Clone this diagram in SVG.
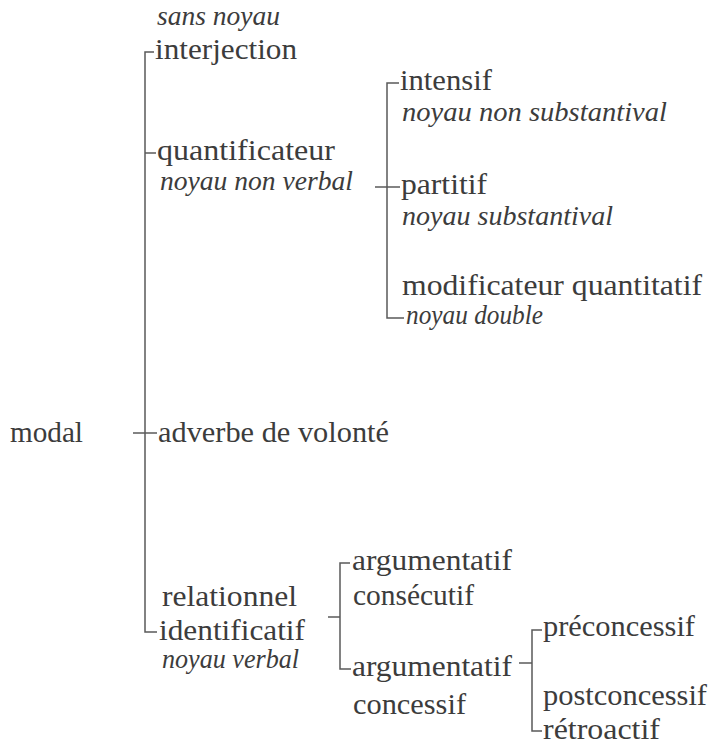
<svg xmlns="http://www.w3.org/2000/svg" width="711" height="745" viewBox="0 0 711 745">
<style>
text{font-size:29px;fill:#3c3c3c}
.i{font-style:italic;font-size:27px}
.ln{fill:none;stroke:#5a5a5a;stroke-width:1.5}
</style>
<rect width="711" height="745" fill="#fff"/>
<g id="connectors">
<path class="ln" d="M154,52 H145 V632 H157"/>
<path class="ln" d="M145,153 H156"/>
<path class="ln" d="M133,433 H157"/>
<path class="ln" d="M375,187 H400"/>
<path class="ln" d="M399,83 H387 V318 H404"/>
<path class="ln" d="M328,617 H340"/>
<path class="ln" d="M350,563 H340 V669 H351"/>
<path class="ln" d="M519,663 H532"/>
<path class="ln" d="M542,630 H532 V731 H542"/>
</g>
<g id="modal"><text x="10" y="442" style="font-family:'Liberation Serif',serif" textLength="73" lengthAdjust="spacingAndGlyphs">modal</text></g>
<g id="interjection">
<text class="i" x="157" y="25" style="font-family:'Liberation Serif',serif" textLength="123" lengthAdjust="spacingAndGlyphs">sans noyau</text>
<text x="155" y="59" style="font-family:'Liberation Serif',serif" textLength="142" lengthAdjust="spacingAndGlyphs">interjection</text>
</g>
<g id="quantificateur">
<text x="157" y="160" style="font-family:'Liberation Serif',serif" textLength="178" lengthAdjust="spacingAndGlyphs">quantificateur</text>
<text class="i" x="160" y="190" style="font-family:'Liberation Serif',serif" textLength="193" lengthAdjust="spacingAndGlyphs">noyau non verbal</text>
</g>
<g id="intensif">
<text x="400" y="90" style="font-family:'Liberation Serif',serif" textLength="92" lengthAdjust="spacingAndGlyphs">intensif</text>
<text class="i" x="402" y="121" style="font-family:'Liberation Serif',serif" textLength="265" lengthAdjust="spacingAndGlyphs">noyau non substantival</text>
</g>
<g id="partitif">
<text x="401" y="194" style="font-family:'Liberation Serif',serif" textLength="86" lengthAdjust="spacingAndGlyphs">partitif</text>
<text class="i" x="402" y="225" style="font-family:'Liberation Serif',serif" textLength="211" lengthAdjust="spacingAndGlyphs">noyau substantival</text>
</g>
<g id="modificateur">
<text x="402" y="295" style="font-family:'Liberation Serif',serif" textLength="300" lengthAdjust="spacingAndGlyphs">modificateur quantitatif</text>
<text class="i" x="406" y="324" style="font-family:'Liberation Serif',serif" textLength="137" lengthAdjust="spacingAndGlyphs">noyau double</text>
</g>
<g id="adverbe"><text x="158" y="442" style="font-family:'Liberation Serif',serif" textLength="231" lengthAdjust="spacingAndGlyphs">adverbe de volonté</text></g>
<g id="relationnel">
<text x="162" y="606" style="font-family:'Liberation Serif',serif" textLength="135" lengthAdjust="spacingAndGlyphs">relationnel</text>
<text x="159" y="640" style="font-family:'Liberation Serif',serif" textLength="146" lengthAdjust="spacingAndGlyphs">identificatif</text>
<text class="i" x="162" y="668" style="font-family:'Liberation Serif',serif" textLength="137" lengthAdjust="spacingAndGlyphs">noyau verbal</text>
</g>
<g id="consecutif">
<text x="352" y="570" style="font-family:'Liberation Serif',serif" textLength="160" lengthAdjust="spacingAndGlyphs">argumentatif</text>
<text x="353" y="605" style="font-family:'Liberation Serif',serif" textLength="121" lengthAdjust="spacingAndGlyphs">consécutif</text>
</g>
<g id="concessif">
<text x="352" y="676" style="font-family:'Liberation Serif',serif" textLength="160" lengthAdjust="spacingAndGlyphs">argumentatif</text>
<text x="353" y="714" style="font-family:'Liberation Serif',serif" textLength="113" lengthAdjust="spacingAndGlyphs">concessif</text>
</g>
<g id="preconcessif"><text x="543" y="636" style="font-family:'Liberation Serif',serif" textLength="152" lengthAdjust="spacingAndGlyphs">préconcessif</text></g>
<g id="postconcessif"><text x="543" y="705" style="font-family:'Liberation Serif',serif" textLength="164" lengthAdjust="spacingAndGlyphs">postconcessif</text></g>
<g id="retroactif"><text x="543" y="739" style="font-family:'Liberation Serif',serif" textLength="117" lengthAdjust="spacingAndGlyphs">rétroactif</text></g>
</svg>
